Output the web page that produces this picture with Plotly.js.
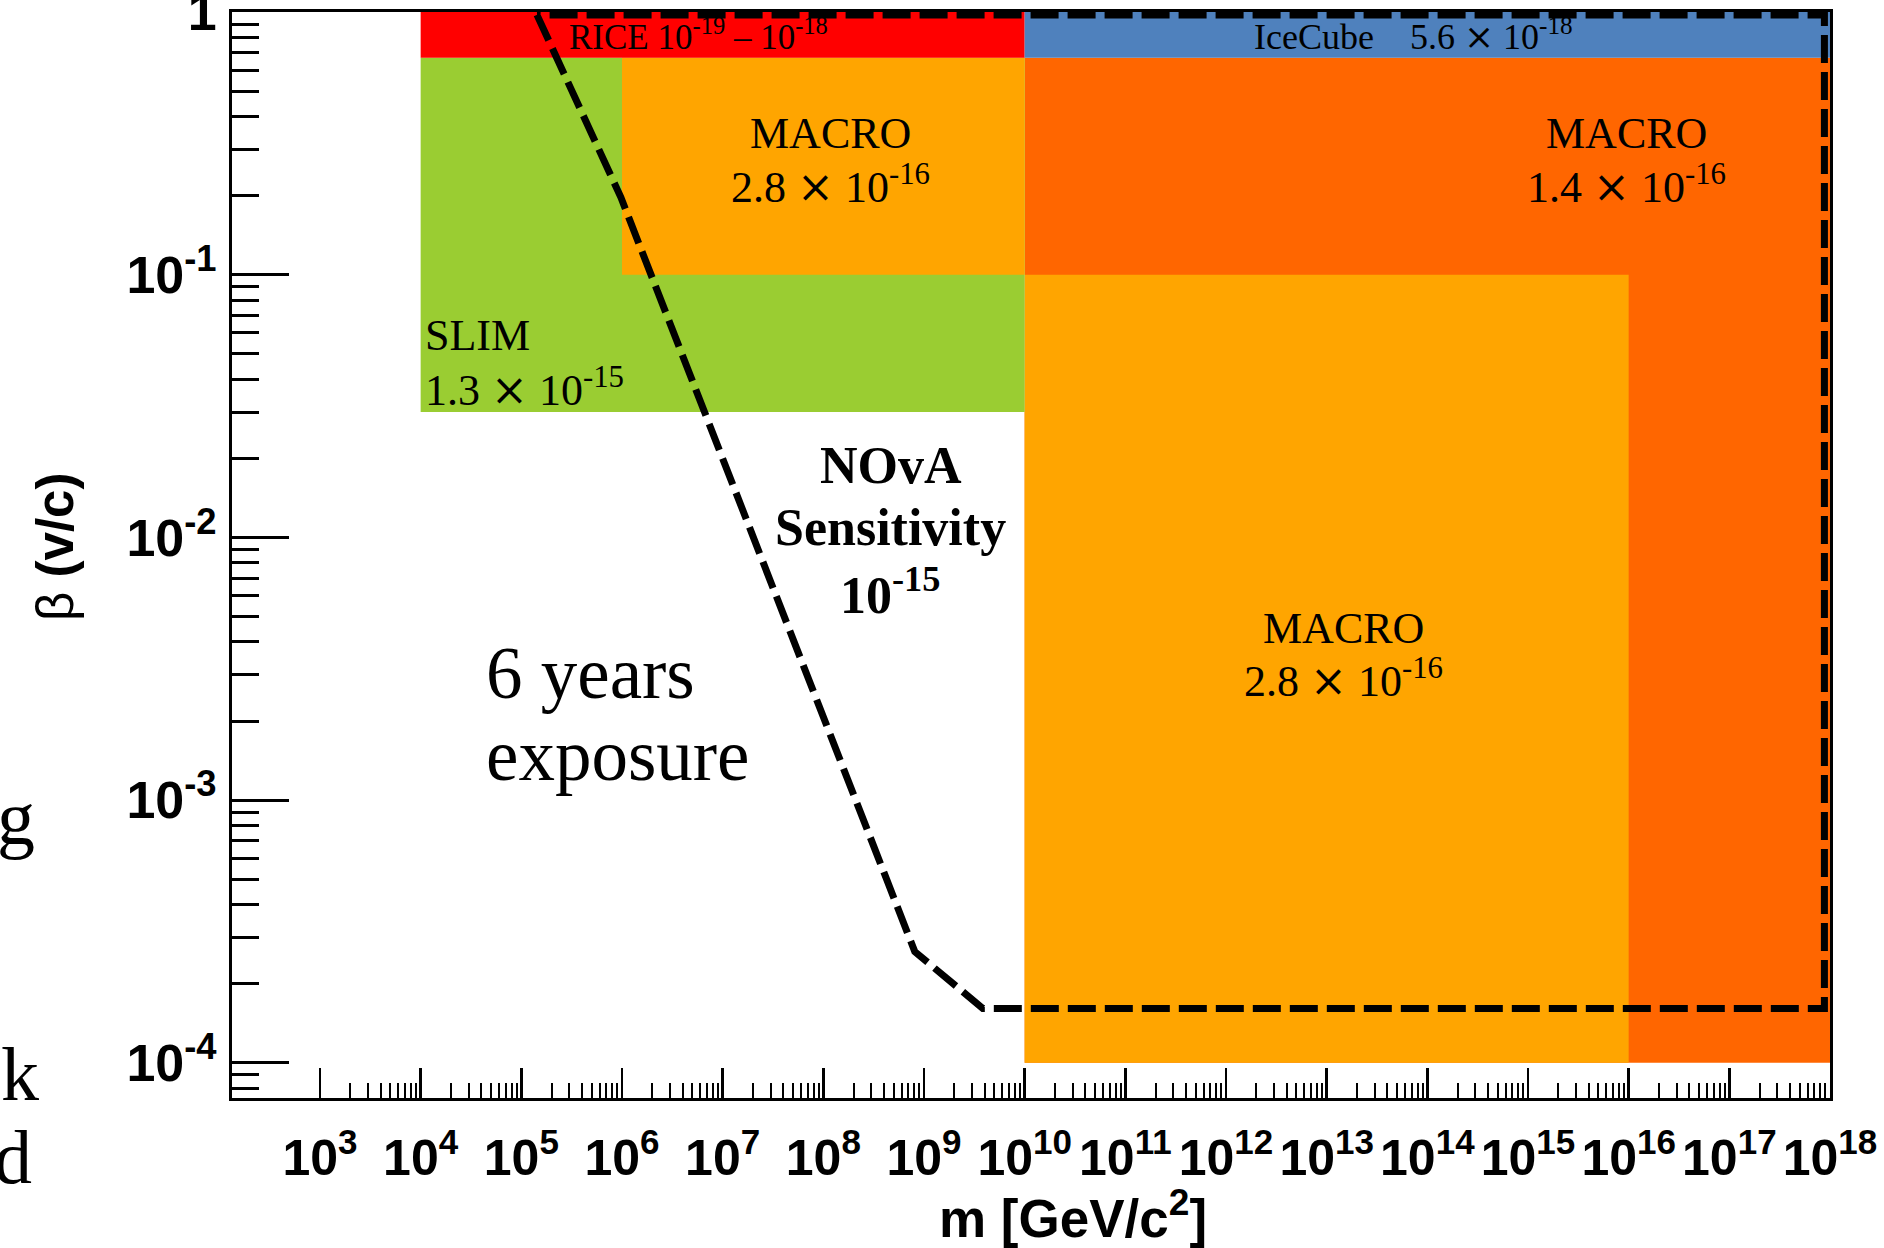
<!DOCTYPE html>
<html>
<head>
<meta charset="utf-8">
<script src="https://cdn.plot.ly/plotly-3.0.1.min.js"></script>
<style>
html,body{margin:0;padding:0;background:#fff;}
#chart{width:1884px;height:1248px;}
</style>
</head>
<body>
<div id="chart"></div>
<script>
// ---- Data ----
// Excluded regions: mass range [GeV/c^2] and beta range
const regionNames   = ['MACRO 1.4e-16', 'MACRO 2.8e-16 (low beta)', 'SLIM', 'MACRO 2.8e-16 (high beta)', 'RICE', 'IceCube'];
const regionMassLow  = [1e10, 1e10, 1e4, 1e6, 1e4, 1e10];
const regionMassHigh = [1e18, 1e16, 1e10, 1e10, 1e10, 1e18];
const regionBetaLow  = [1e-4, 1e-4, 0.03, 0.1, 0.67, 0.67];
const regionBetaHigh = [0.67, 0.1, 0.67, 0.67, 1, 1];
const regionColors   = ['#ff6600', '#ffa500', '#9acd32', '#ffa500', '#ff0000', '#4f81bd'];

// NOvA 6-year sensitivity contour (closed)
const sensMass = [1.43e5, 9.75e5, 8.1e8, 3.84e9, 8.8e17, 8.8e17, 1.43e5];
const sensBeta = [0.975, 0.197, 2.65e-4, 1.61e-4, 1.61e-4, 0.975, 0.975];

// Axis ticks
const massTickVals = [1e3,1e4,1e5,1e6,1e7,1e8,1e9,1e10,1e11,1e12,1e13,1e14,1e15,1e16,1e17,1e18];
const massTickText = ['10<sup>3</sup>','10<sup>4</sup>','10<sup>5</sup>','10<sup>6</sup>','10<sup>7</sup>','10<sup>8</sup>','10<sup>9</sup>','10<sup>10</sup>','10<sup>11</sup>','10<sup>12</sup>','10<sup>13</sup>','10<sup>14</sup>','10<sup>15</sup>','10<sup>16</sup>','10<sup>17</sup>','10<sup>18</sup>'];
const betaTickVals = [1e-4, 1e-3, 1e-2, 1e-1, 1];
const betaTickText = ['10<sup>-4</sup>','10<sup>-3</sup>','10<sup>-2</sup>','10<sup>-1</sup>','1'];
const minorDigits = [2, 3, 4, 5, 6, 7, 8, 9];

// minor x ticks only from the first labelled decade on (as in the reference)
const massMinorVals = [];
massTickVals.slice(0, -1).forEach(d => minorDigits.forEach(k => massMinorVals.push(d * k)));

// ---- Traces ----
const traces = [];
for (let i = 0; i < regionNames.length; i++) {
  traces.push({
    type: 'scatter', mode: 'lines', name: regionNames[i],
    x: [regionMassLow[i], regionMassHigh[i], regionMassHigh[i], regionMassLow[i], regionMassLow[i]],
    y: [regionBetaLow[i], regionBetaLow[i], regionBetaHigh[i], regionBetaHigh[i], regionBetaLow[i]],
    fill: 'toself', fillcolor: regionColors[i],
    line: {width: 0, color: regionColors[i]},
    hoverinfo: 'skip', showlegend: false
  });
}
traces.push({
  type: 'scatter', mode: 'lines', name: 'NOvA sensitivity',
  x: sensMass, y: sensBeta,
  line: {color: '#000', width: 7, dash: '28px,9px'},
  hoverinfo: 'skip', showlegend: false
});

const serif = 'Liberation Serif, Times New Roman, serif';
const sansB = 'Liberation Sans, Arial, Helvetica, sans-serif';
const X = '<span style="font-family:DejaVu Serif">×</span>';

function ann(text, x, y, size, opts) {
  return Object.assign({
    text: text, x: x, y: y, xref: 'x', yref: 'y', showarrow: false,
    xanchor: 'center', yanchor: 'middle',
    font: {family: serif, size: size, color: '#000'}
  }, opts || {});
}

const annotations = [
  ann('RICE 10<sup>-19</sup> – 10<sup>-18</sup>', 5.453, -0.084, 35, {xanchor: 'left'}),
  ann('IceCube\u00a0\u00a0\u00a0 5.6 ' + X + ' 10<sup>-18</sup>', 12.255, -0.084, 36, {xanchor: 'left'}),
  ann('MACRO', 8.075, -0.464, 44),
  ann('2.8 ' + X + ' 10<sup>-16</sup>', 8.075, -0.657, 44),
  ann('MACRO', 15.979, -0.464, 44),
  ann('1.4 ' + X + ' 10<sup>-16</sup>', 15.979, -0.657, 44),
  ann('MACRO', 13.169, -2.347, 44),
  ann('2.8 ' + X + ' 10<sup>-16</sup>', 13.169, -2.537, 44),
  ann('SLIM', 4.023, -1.231, 44, {xanchor: 'left'}),
  ann('1.3 ' + X + ' 10<sup>-15</sup>', 4.023, -1.429, 44, {xanchor: 'left'}),
  ann('<b>NOvA</b>', 8.670, -1.726, 52),
  ann('<b>Sensitivity</b>', 8.670, -1.962, 52),
  ann('<b>10<sup>-15</sup></b>', 8.670, -2.206, 52),
  ann('6 years', 4.628, -2.518, 73, {xanchor: 'left'}),
  ann('exposure', 4.628, -2.830, 73, {xanchor: 'left'}),
  // cut-off letters at the left page edge
  {text: 'g', x: -0.148, y: 0.258, xref: 'paper', yref: 'paper', showarrow: false, xanchor: 'left', yanchor: 'middle', font: {family: serif, size: 76, color: '#000'}},
  {text: 'k', x: -0.146, y: 0.022, xref: 'paper', yref: 'paper', showarrow: false, xanchor: 'left', yanchor: 'middle', font: {family: serif, size: 76, color: '#000'}},
  {text: 'd', x: -0.150, y: -0.054, xref: 'paper', yref: 'paper', showarrow: false, xanchor: 'left', yanchor: 'middle', font: {family: serif, size: 76, color: '#000'}},
  // axis titles
  {text: '<b>m [GeV/c<sup>2</sup>]</b>', x: 0.526, y: -0.1075, xref: 'paper', yref: 'paper', showarrow: false, xanchor: 'center', yanchor: 'middle', font: {family: sansB, size: 53, color: '#000'}},
  {text: 'β <b>(v/c)</b>', x: -0.110, y: 0.5076, xref: 'paper', yref: 'paper', showarrow: false, xanchor: 'center', yanchor: 'middle', textangle: -90, font: {family: sansB, size: 51, color: '#000'}}
];

const layout = {
  width: 1884, height: 1248,
  margin: {l: 232, r: 54, t: 12, b: 150, pad: 0},
  paper_bgcolor: '#ffffff', plot_bgcolor: '#ffffff',
  showlegend: false,
  xaxis: {
    type: 'log', range: [2.126, 18.0],
    tickmode: 'array', tickvals: massTickVals, ticktext: massTickText,
    ticks: 'inside', ticklen: 30, tickwidth: 2.5, tickcolor: '#000',
    minor: {ticks: 'inside', ticklen: 15, tickwidth: 2, tickcolor: '#000', tickmode: 'array', tickvals: massMinorVals, showgrid: false},
    showgrid: false, zeroline: false,
    showline: true, linecolor: '#000', linewidth: 3, mirror: true,
    tickfont: {family: sansB, size: 50, color: '#000', weight: 'bold'},
    ticklabelstandoff: 14, ticklabeloverflow: 'allow'
  },
  yaxis: {
    type: 'log', range: [-4.134, 0],
    tickmode: 'array', tickvals: betaTickVals, ticktext: betaTickText,
    ticks: 'inside', ticklen: 57, tickwidth: 3, tickcolor: '#000',
    minor: {ticks: 'inside', ticklen: 27, tickwidth: 3, tickcolor: '#000', dtick: 'D1', showgrid: false},
    showgrid: false, zeroline: false,
    showline: true, linecolor: '#000', linewidth: 3, mirror: true,
    tickfont: {family: sansB, size: 52, color: '#000', weight: 'bold'},
    ticklabelstandoff: 2, ticklabeloverflow: 'allow'
  },
  annotations: annotations
};

Plotly.newPlot('chart', traces, layout, {staticPlot: true, displayModeBar: false});
</script>
</body>
</html>
